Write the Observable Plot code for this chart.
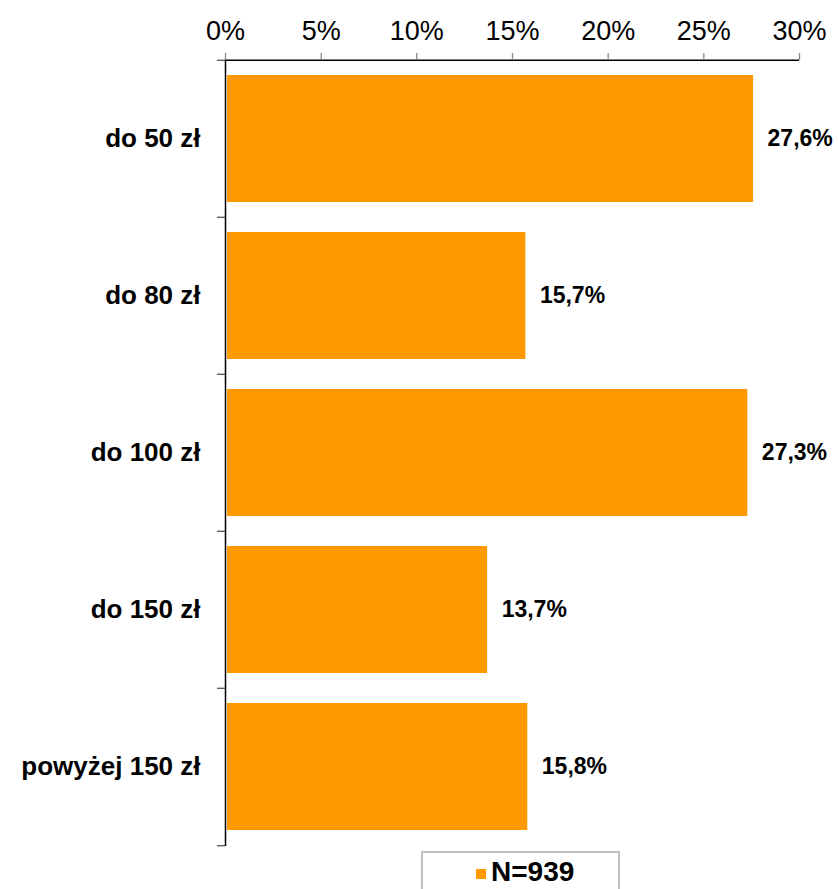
<!DOCTYPE html>
<html>
<head>
<meta charset="utf-8">
<script src="https://cdn.jsdelivr.net/npm/d3@7"></script>
<script src="https://cdn.jsdelivr.net/npm/@observablehq/plot@0.6"></script>
<style>
  html, body { margin: 0; padding: 0; background: #fff; }
  #wrap { position: relative; width: 838px; height: 889px; overflow: hidden; font-family: "Liberation Sans", Arial, sans-serif; }
  #legend { position: absolute; left: 421px; top: 851px; width: 199px; height: 50px; border: 2px solid #c0c0c0; box-sizing: border-box; background: #fff; }
  #legend .sw { position: absolute; left: 53px; top: 16px; width: 10px; height: 10px; background: #FF9900; }
  #legend .tx { position: absolute; left: 68px; top: 3px; font-weight: bold; font-size: 28px; line-height: 32px; color: #000; white-space: nowrap; }
</style>
</head>
<body>
<div id="wrap">
  <div id="chart"></div>
  <div id="legend"><div class="sw"></div><div class="tx">N=939</div></div>
</div>
<script>
const categories = ["do 50 zł", "do 80 zł", "do 100 zł", "do 150 zł", "powyżej 150 zł"];
const values = [27.6, 15.7, 27.3, 13.7, 15.8];
const xTicks = [0, 5, 10, 15, 20, 25, 30];

const data = categories.map((c, i) => ({category: c, value: values[i]}));
const fmt = v => v.toFixed(1).replace(".", ",") + "%";
const step = (850 - 59 - 4) / categories.length;

const plot = Plot.plot({
  width: 838,
  height: 850,
  marginTop: 59,
  marginBottom: 4,
  marginLeft: 225,
  marginRight: 39,
  style: {fontFamily: "'Liberation Sans', Arial, sans-serif", background: "#fff", color: "#000"},
  x: {domain: [0, 30], label: null},
  y: {domain: categories, paddingInner: 0.19, paddingOuter: 0.095, label: null},
  marks: [
    Plot.barX(data, {y: "category", x: "value", fill: "#FF9900", insetLeft: 2}),
    Plot.text(data, {y: "category", x: "value", text: d => fmt(d.value), textAnchor: "start", dx: 14, fontWeight: "bold", fontSize: 23, fill: "#000"}),
    Plot.ruleX([0], {stroke: "#000", strokeWidth: 1.5}),
    Plot.ruleY([categories[0]], {y: d => d, x1: 0, x2: 30, dy: -step / 2, stroke: "#000", strokeWidth: 1.5}),
    Plot.ruleY(categories, {y: d => d, x1: -0.42, x2: 0, dy: -step / 2, stroke: "#555", strokeWidth: 1.3}),
    Plot.ruleY([categories[categories.length - 1]], {y: d => d, x1: -0.42, x2: 0, dy: step / 2, stroke: "#555", strokeWidth: 1.3}),
    Plot.axisX(xTicks, {anchor: "top", tickSize: 7, tickPadding: 13, stroke: "#888", strokeWidth: 1.3, tickFormat: d => d + "%", fontSize: 27, fill: "#000", label: null}),
    Plot.axisY({tickSize: 0, tickPadding: 25, fontWeight: "bold", fontSize: 26, fill: "#000", label: null})
  ]
});
document.getElementById("chart").appendChild(plot);
</script>
</body>
</html>
